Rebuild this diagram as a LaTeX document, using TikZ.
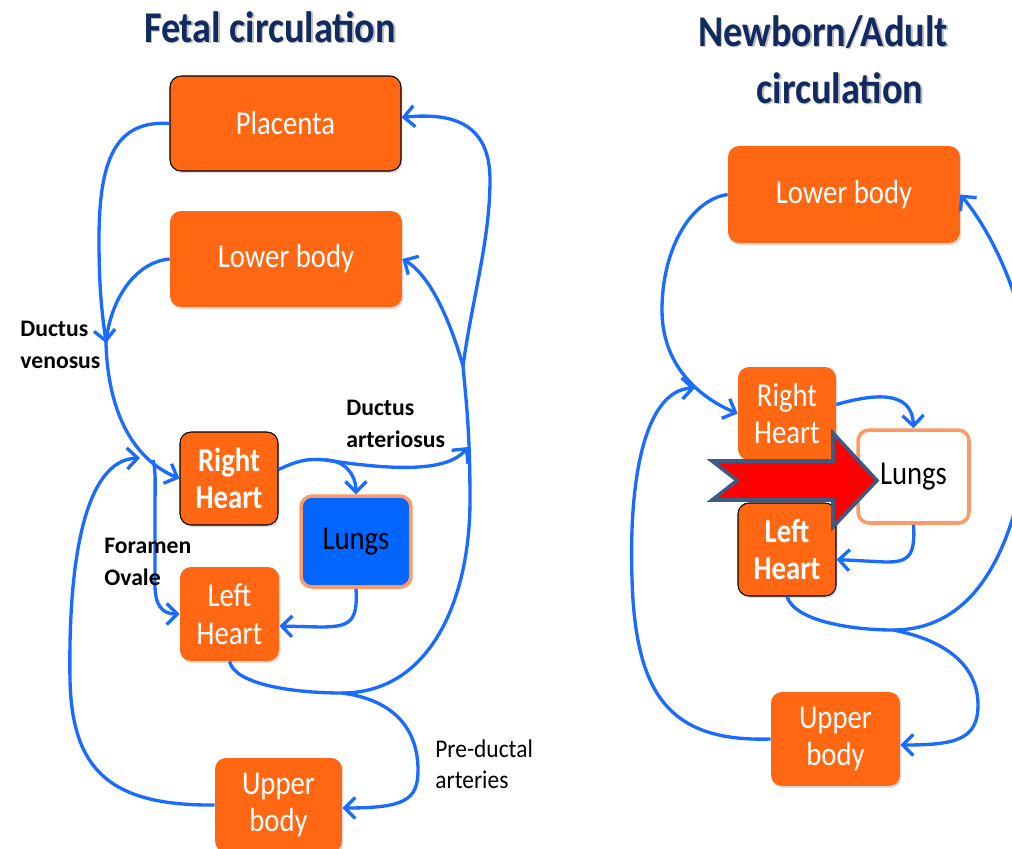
\documentclass[tikz,border=0pt]{standalone}
\usepackage{fontspec}
\setmainfont{Carlito}
\newfontfamily\boxfont[FakeStretch=0.86]{Carlito}
\newfontfamily\titlefont[FakeStretch=0.87]{Carlito}
\newfontfamily\notefont[FakeStretch=0.92]{Carlito}
\usetikzlibrary{arrows.meta,shadows,calc}
\definecolor{org}{HTML}{FF6712}
\definecolor{flowblue}{HTML}{1A6BFF}
\definecolor{lungblue}{HTML}{0066FF}
\definecolor{lungedge}{HTML}{FF9A66}
\definecolor{navy}{HTML}{112B60}
\definecolor{arrowedge}{HTML}{3E5B86}
\tikzset{
  organ/.style={fill=org, rounded corners=0.22cm, text=white, align=center, inner sep=0pt,
    font=\boxfont\fontsize{19}{21.5}\selectfont,
    drop shadow={shadow xshift=0.8pt, shadow yshift=-1.2pt, opacity=0.3}},
  boldorgan/.style={organ, font=\boxfont\bfseries\fontsize{19}{21.5}\selectfont},
  edged/.style={draw=black, line width=0.6pt},
  lungbox/.style={organ, draw=lungedge, line width=2pt, text=black},
  flow/.style={draw=flowblue, line width=1.9pt},
  barb/.style={-{Straight Barb[length=6pt,width=12pt]}},
  lbl/.style={font=\bfseries\fontsize{13.5}{18}\selectfont, align=left, inner sep=0pt, anchor=north west},
  plainlbl/.style={font=\notefont\fontsize{14.5}{18}\selectfont, align=left, inner sep=0pt, anchor=north west},
  ttl/.style={font=\titlefont\bfseries\fontsize{25}{30}\selectfont, text=navy, inner sep=0pt},
  ttlshadow/.style={ttl, text=black, opacity=0.25},
  redarrow/.style={fill=red, draw=arrowedge, line width=2pt, line join=miter}
}
\begin{document}
\begin{tikzpicture}[x={(0.02cm,0)}, y={(0,-0.02cm)}]
\useasboundingbox (0,0) rectangle (1012,849);
\clip (0,0) rectangle (1012,849);

% titles
\node[ttlshadow] at (271.5,28.5) {Fetal circulation};
\node[ttl] (t1) at (270,27) {Fetal circulation};
\node[ttlshadow] at (824.5,33.5) {Newborn/Adult};
\node[ttl] (t2) at (823,32) {Newborn/Adult};
\node[ttlshadow] at (841.5,89.5) {circulation};
\node[ttl] (t3) at (840,88) {circulation};

% coordinates
\coordinate (dv) at (106,343);
\coordinate (fo) at (153,460);
\coordinate (da) at (325,460);
\coordinate (rv1) at (463,366);
\coordinate (jn1) at (342,693);
\coordinate (jn2) at (893,630);

% boxes (left)
\node[organ, edged, minimum width=4.62cm, minimum height=1.9cm] (pl) at (285.5,123.5) {Placenta};
\node[organ, minimum width=4.64cm, minimum height=1.92cm] (lb1) at (286,259) {Lower body};
\node[boldorgan, edged, minimum width=1.96cm, minimum height=1.86cm] (rh1) at (229,478.5) {Right\\Heart};
\node[lungbox, fill=lungblue, minimum width=2.2cm, minimum height=1.82cm] (lu1) at (356,541.5) {Lungs};
\node[organ, minimum width=1.98cm, minimum height=1.88cm] (lh1) at (229.5,614) {Left\\Heart};
\node[organ, minimum width=2.54cm, minimum height=1.88cm] (ub1) at (278.5,805) {Upper\\body};

% boxes (right)
\node[organ, minimum width=4.64cm, minimum height=1.94cm] (lb2) at (844,194.5) {Lower body};
\node[organ, minimum width=1.96cm, minimum height=1.86cm] (rh2) at (787,413.5) {Right\\Heart};
\node[lungbox, fill=white, minimum width=2.22cm, minimum height=1.86cm] (lu2) at (913.5,476.5) {Lungs};
\node[boldorgan, edged, minimum width=1.96cm, minimum height=1.86cm] (lh2) at (787,549.5) {Left\\Heart};
\node[organ, minimum width=2.58cm, minimum height=1.88cm] (ub2) at (835.5,739) {Upper\\body};

% connectors (left)
\draw[flow,barb] (pl.west) .. controls (115,120) and (99,160) .. (99,240) .. controls (99,300) and (104,325) .. (dv);
\draw[flow] (lb1.west) .. controls (135,262) and (110,300) .. (dv);
\draw[flow,barb] (dv) .. controls (108,415) and (135,460) .. (rh1.west);
\draw[flow,barb] (fo) .. controls (156,470) and (155,485) .. (155,510) -- (155,585) .. controls (155,605) and (162,614) .. (lh1.west);
\draw[flow,barb] (ub1.west) .. controls (110,806) and (72,770) .. (70,680) .. controls (68,560) and (85,460) .. (140,458);
\draw[flow,barb] ($(rh1.east)+(0,-9)$) .. controls (295,462) and (305,458) .. (da) .. controls (380,468) and (445,475) .. (468,447);
\draw[flow,barb] (da) .. controls (345,460) and (356,475) .. (lu1.north);
\draw[flow,barb] (lu1.south) .. controls (358,622) and (350,627) .. (320,627) -- ($(lh1.east)+(0,12)$);
\draw[flow] (lh1.south) .. controls (235,685) and (295,693) .. (jn1);
\draw[flow] (jn1) .. controls (430,693) and (470,600) .. (470,500) .. controls (470,430) and (466,400) .. (rv1);
\draw[flow,barb] (rv1) .. controls (472,300) and (490,240) .. (490,180) .. controls (490,125) and (455,112) .. ($(pl.east)+(0,-6)$);
\draw[flow,barb] (rv1) .. controls (450,320) and (430,275) .. (lb1.east);
\draw[flow,barb] (jn1) .. controls (395,700) and (418,730) .. (418,770) .. controls (418,800) and (405,808) .. ($(ub1.east)+(0,3)$);

% connectors (right)
\draw[flow,barb] (lb2.west) .. controls (690,200) and (662,250) .. (662,310) .. controls (662,370) and (705,400) .. (rh2.west);
\draw[flow,barb] (ub2.west) .. controls (675,742) and (640,700) .. (633,600) .. controls (626,480) and (645,390) .. (695,388);
\draw[flow,barb] ($(rh2.east)+(0,-9)$) .. controls (870,395) and (912,388) .. (lu2.north);
\draw[flow,barb] (lu2.south) .. controls (916,560) and (905,562) .. (885,562) -- ($(lh2.east)+(0,10)$);
\draw[flow] (lh2.south) .. controls (795,622) and (855,630) .. (jn2);
\draw[flow,barb] (jn2) .. controls (980,630) and (1018,540) .. (1030,430) .. controls (1040,330) and (998,240) .. (lb2.east);
\draw[flow,barb] (jn2) .. controls (945,640) and (978,665) .. (978,705) .. controls (978,740) and (955,745) .. ($(ub2.east)+(0,6)$);

% red arrow
\draw[redarrow] (712,461) -- (737,480.5) -- (712,500) -- (833,500) -- (833,527) -- (877,480.5) -- (833,433) -- (833,461) -- cycle;

% labels
\node[lbl] (dvl) at (20,321) {Ductus\\venosus};
\node[lbl] (dal) at (346,400) {Ductus\\arteriosus};
\node[lbl] (fol) at (104,538) {Foramen\\Ovale};
\node[plainlbl] (pdl) at (435,739) {Pre-ductal\\arteries};
\end{tikzpicture}
\end{document}
